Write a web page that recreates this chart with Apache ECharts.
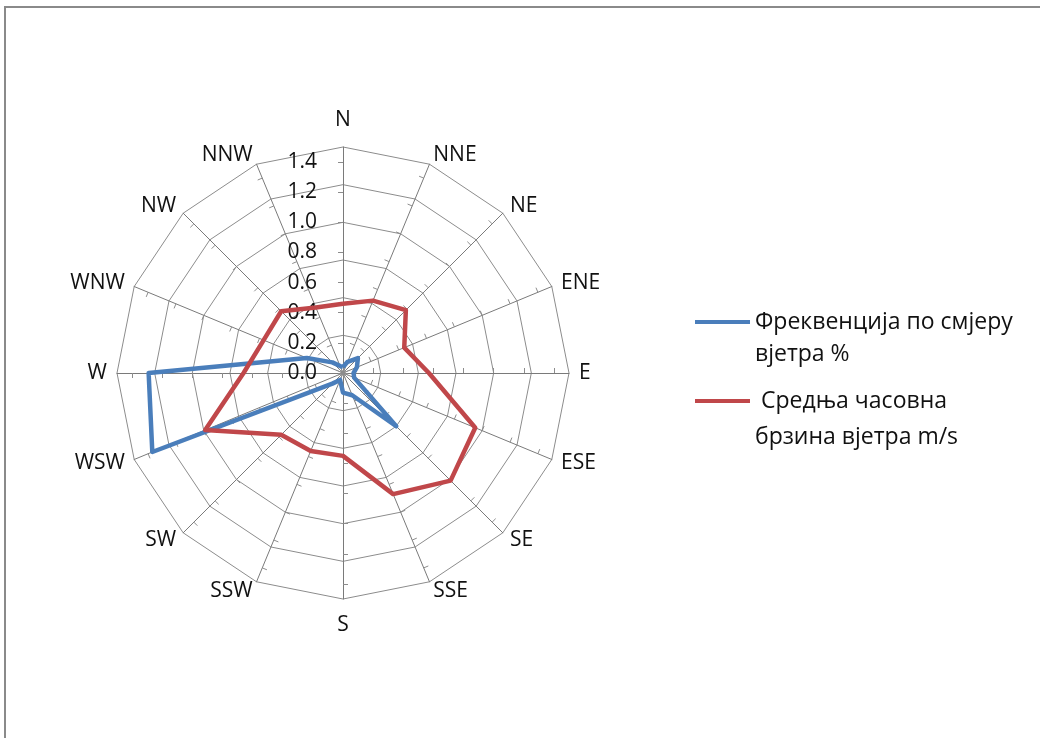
<!DOCTYPE html>
<html>
<head>
<meta charset="utf-8">
<script src="https://cdn.jsdelivr.net/npm/echarts@6/dist/echarts.min.js"></script>
<style>
  html, body { margin: 0; padding: 0; background: #ffffff; }
  #wrap { position: relative; width: 1040px; height: 738px; overflow: hidden; background: #fff; }
  #frame { position: absolute; left: 4px; top: 6px; width: 1040px; height: 740px;
           border-top: 2px solid #8a8a8a; border-left: 2px solid #8a8a8a; box-sizing: border-box; }
  #chart { position: absolute; left: 0; top: 0; width: 1040px; height: 738px; }
</style>
</head>
<body>
<div id="wrap">
  <div id="frame"></div>
  <div id="chart"></div>
</div>
<script>
// Directions in clockwise order starting at North
const directions = ['N','NNE','NE','ENE','E','ESE','SE','SSE','S','SSW','SW','WSW','W','WNW','NW','NNW'];
// Frequency by wind direction (%)
const frequency = [0.04, 0.08, 0.14, 0.10, 0.07, 0.08, 0.50, 0.16, 0.13, 0.05, 0.10, 1.37, 1.29, 0.26, 0.10, 0.05];
// Mean hourly wind speed (m/s)
const speed = [0.46, 0.52, 0.59, 0.44, 0.57, 0.95, 1.01, 0.87, 0.55, 0.56, 0.58, 0.99, 0.66, 0.57, 0.58, 0.47];
const tickLabels = ['0.0','0.2','0.4','0.6','0.8','1.0','1.2','1.4'];
const seriesNames = ['Фреквенција по смјеру\nвјетра %', ' Средња часовна\nбрзина вјетра m/s'];

const gridMax = 1.5;   // outer ring of the gridlines
const tickMax = 1.4;   // last labelled tick
const cx = 343, cy = 373, R = 226;

// ECharts radar lays indicators counter-clockwise; reorder so they read clockwise
const order = [0].concat(Array.from({length: directions.length - 1}, (_, i) => directions.length - 1 - i));
const ord = arr => order.map(i => arr[i]);

const font = "'Open Sans', 'DejaVu Sans', sans-serif";
const lh1 = 32, lh2 = 36;

const chart = echarts.init(document.getElementById('chart'), null, {renderer: 'canvas'});
chart.setOption({
  animation: false,
  backgroundColor: 'transparent',
  color: ['#4A7EBB', '#BE4B48'],
  legend: [
    {
      data: [seriesNames[0]], orient: 'vertical', left: 690, top: 317 - 1.5 * lh1,
      itemWidth: 55, itemHeight: 4, icon: 'rect',
      formatter: n => '\n' + n,
      textStyle: {fontFamily: font, fontSize: 23, lineHeight: lh1, color: '#111'}
    },
    {
      data: [seriesNames[1]], orient: 'vertical', left: 690, top: 396 - 1.5 * lh2,
      itemWidth: 55, itemHeight: 4, icon: 'rect',
      formatter: n => '\n' + n,
      textStyle: {fontFamily: font, fontSize: 23, lineHeight: lh2, color: '#111'}
    }
  ],
  radar: [
    {
      center: [cx, cy], radius: R, shape: 'polygon', splitNumber: 6, startAngle: 90,
      indicator: ord(directions).map(d => ({name: d, min: 0, max: gridMax,
                                             nameGap: (d === 'N' || d === 'S') ? 16 : 10})),
      axisName: {color: '#111', fontFamily: font, fontSize: 21},
      nameGap: 10,
      axisLine: {lineStyle: {color: '#7a7a7a', width: 1}},
      splitLine: {lineStyle: {color: '#8c8c8c', width: 1}},
      splitArea: {show: false},
      axisTick: {show: false},
      axisLabel: {show: false}
    },
    {
      center: [cx, cy], radius: R * tickMax / gridMax, shape: 'polygon', splitNumber: 7, startAngle: 90,
      indicator: ord(directions).map((d, i) => ({
        name: '', min: 0, max: tickMax,
        axisLabel: i === 0 ? {show: true} : {show: false}
      })),
      axisName: {show: false},
      axisLine: {show: false},
      splitLine: {show: false},
      splitArea: {show: false},
      axisTick: {show: true, length: 5, lineStyle: {color: '#8c8c8c', width: 1}},
      axisLabel: {show: false, margin: 26, color: '#111', fontFamily: font, fontSize: 21,
                  formatter: (v, i) => tickLabels[i] !== undefined ? tickLabels[i] : ''}
    }
  ],
  series: [
    {
      type: 'radar', radarIndex: 0, symbol: 'none', z: 3,
      lineStyle: {width: 4.5, color: '#4A7EBB'},
      data: [{name: seriesNames[0], value: ord(frequency), itemStyle: {color: '#4A7EBB'}}]
    },
    {
      type: 'radar', radarIndex: 0, symbol: 'none', z: 4,
      lineStyle: {width: 4.5, color: '#C0474A'},
      data: [{name: seriesNames[1], value: ord(speed), itemStyle: {color: '#C0474A'}}]
    }
  ]
});
</script>
</body>
</html>
